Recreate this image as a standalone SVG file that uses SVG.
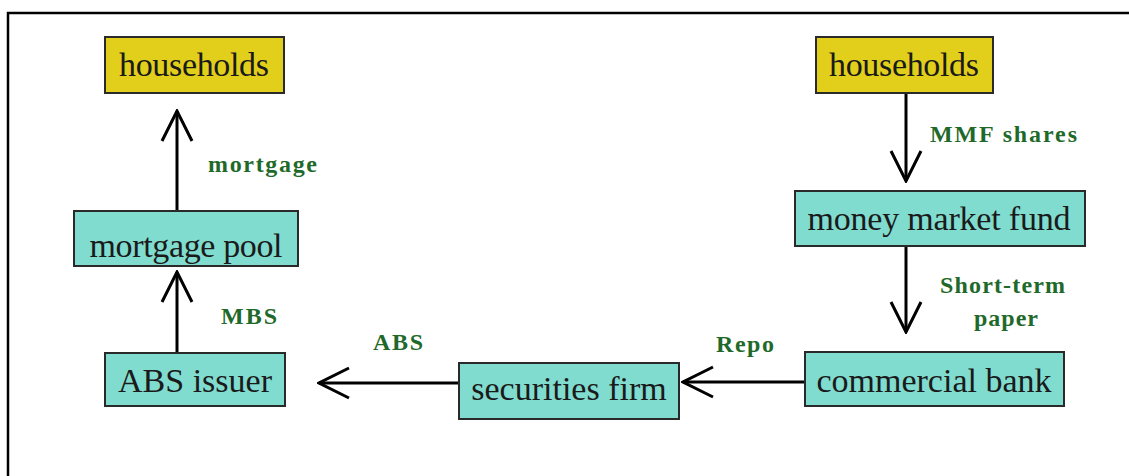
<svg xmlns="http://www.w3.org/2000/svg" width="1129" height="476" viewBox="0 0 1129 476">
  <style>
    .frame { fill: none; stroke: #000; stroke-width: 2.5; }
    .box { stroke: #2a2a2a; stroke-width: 2; }
    .hh { fill: #e2cf1c; }
    .inst { fill: #80dccf; }
    .name { font-family: "Liberation Serif", "Times New Roman", serif; font-size: 34px; fill: #1a1a1a; text-anchor: middle; }
    .flow { font-family: "Liberation Serif", "Times New Roman", serif; font-size: 24px; font-weight: bold; fill: #1f6a2a; }
    .link { fill: none; stroke: #000; stroke-width: 3; marker-end: url(#chev); }
  </style>
  <defs>
    <marker id="chev" markerUnits="userSpaceOnUse" viewBox="-32 -17 34 34" refX="0" refY="0" markerWidth="34" markerHeight="34" orient="auto">
      <path d="M-30,-15 L0,0 L-30,15" fill="none" stroke="#000" stroke-width="3" stroke-linejoin="miter"/>
    </marker>
  </defs>

  <rect width="1129" height="476" fill="#fff"/>
  <!-- frame: top and left edges only -->
  <path class="frame" d="M8,476 L8,13 L1129,13"/>

  <g id="connectors">
    <line class="link" x1="177" y1="211" x2="177" y2="111"/>
    <line class="link" x1="177" y1="353" x2="177" y2="272"/>
    <line class="link" x1="459" y1="383" x2="319" y2="383"/>
    <line class="link" x1="805" y1="382" x2="683" y2="382"/>
    <line class="link" x1="906" y1="93" x2="906" y2="181"/>
    <line class="link" x1="906" y1="246" x2="906" y2="332"/>
  </g>

  <g id="labels">
    <text class="flow" x="208" y="172" textLength="109" lengthAdjust="spacing">mortgage</text>
    <text class="flow" x="221" y="324" textLength="56" lengthAdjust="spacing">MBS</text>
    <text class="flow" x="373" y="350" textLength="50" lengthAdjust="spacing">ABS</text>
    <text class="flow" x="716" y="352" textLength="58" lengthAdjust="spacing">Repo</text>
    <text class="flow" x="930" y="142" textLength="147" lengthAdjust="spacing">MMF shares</text>
    <text class="flow" x="940" y="293" textLength="125" lengthAdjust="spacing">Short-term</text>
    <text class="flow" x="974" y="326" textLength="64" lengthAdjust="spacing">paper</text>
  </g>

  <g id="households-left">
    <rect class="box hh" x="105" y="37" width="179" height="56"/>
    <text class="name" x="194" y="76" textLength="150" lengthAdjust="spacing">households</text>
  </g>
  <g id="mortgage-pool">
    <rect class="box inst" x="74" y="211" width="224" height="55"/>
    <text class="name" x="186" y="257" textLength="193" lengthAdjust="spacing">mortgage pool</text>
  </g>
  <g id="abs-issuer">
    <rect class="box inst" x="105" y="353" width="180" height="53"/>
    <text class="name" x="195" y="392">ABS issuer</text>
  </g>
  <g id="securities-firm">
    <rect class="box inst" x="459" y="363" width="220" height="56"/>
    <text class="name" x="569" y="400">securities firm</text>
  </g>
  <g id="commercial-bank">
    <rect class="box inst" x="805" y="352" width="259" height="54"/>
    <text class="name" x="934" y="392">commercial bank</text>
  </g>
  <g id="money-market-fund">
    <rect class="box inst" x="795" y="191" width="290" height="55"/>
    <text class="name" x="939" y="230" textLength="263" lengthAdjust="spacing">money market fund</text>
  </g>
  <g id="households-right">
    <rect class="box hh" x="816" y="37" width="177" height="56"/>
    <text class="name" x="904" y="76" textLength="150" lengthAdjust="spacing">households</text>
  </g>
</svg>
